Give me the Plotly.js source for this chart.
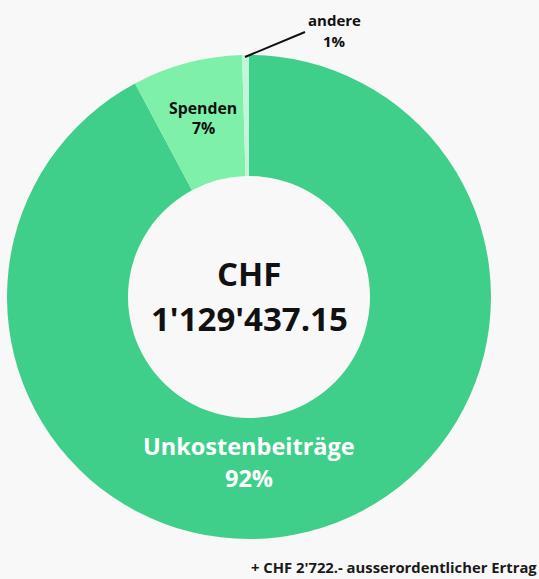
<!DOCTYPE html>
<html>
<head>
<meta charset="utf-8">
<script src="https://cdn.plot.ly/plotly-3.0.1.min.js"></script>
<style>
html,body{margin:0;padding:0;background:#f8f8f8;}
#chart{width:539px;height:579px;}
</style>
</head>
<body>
<div id="chart"></div>
<script>
const categories = ["Unkostenbeiträge", "Spenden", "andere"];
const values = [1041300, 83000, 5137.15];
const percentLabels = ["92%", "7%", "1%"];
const sliceColors = ["#3fcf8a", "#7ef0aa", "#c3f5d8"];
const currency = "CHF";
const footnote = "+ CHF 2'722.- ausserordentlicher Ertrag";

const total = values.reduce((a, b) => a + b, 0);
function swissFormat(n) {
  const parts = n.toFixed(2).split(".");
  return parts[0].replace(/\B(?=(\d{3})+(?!\d))/g, "'") + "." + parts[1];
}

const W = 539, H = 579;
const px = x => x / W;
const py = y => 1 - y / H;
const FONT = "Open Sans, sans-serif";

const trace = {
  type: "pie",
  labels: categories,
  values: values,
  sort: false,
  direction: "clockwise",
  rotation: 0,
  hole: 0.5,
  textinfo: "none",
  hoverinfo: "skip",
  marker: { colors: sliceColors, line: { width: 0 } },
  domain: { x: [px(7), px(491)], y: [py(539), py(55)] },
  showlegend: false
};

function ann(text, x, y, size, color, extra) {
  return Object.assign({
    text: text, x: px(x), y: py(y), xref: "paper", yref: "paper",
    xanchor: "center", yanchor: "middle", showarrow: false,
    font: { family: FONT, size: size, color: color, weight: 700 }
  }, extra || {});
}

const annotations = [
  ann(currency, 249, 273, 33, "#111111"),
  ann(swissFormat(total), 249, 318, 33, "#111111"),
  ann(categories[0], 249, 446, 23.5, "#ffffff"),
  ann(percentLabels[0], 249, 478, 23.5, "#ffffff"),
  ann(categories[1], 203, 108, 15.8, "#111111"),
  ann(percentLabels[1], 203, 128, 15.8, "#111111"),
  ann(categories[2], 334, 20, 15, "#111111"),
  ann(percentLabels[2], 334, 41, 15, "#111111"),
  ann(footnote, 538, 567, 14.8, "#1a1a1a", { xanchor: "right", borderpad: 0 })
];

const layout = {
  width: W, height: H,
  margin: { l: 0, r: 0, t: 0, b: 0 },
  paper_bgcolor: "#f8f8f8",
  plot_bgcolor: "#f8f8f8",
  annotations: annotations,
  shapes: [{
    type: "line", xref: "paper", yref: "paper",
    x0: px(245), y0: py(57), x1: px(305), y1: py(32),
    line: { color: "#111111", width: 2 }
  }],
  hovermode: false
};

Plotly.newPlot("chart", [trace], layout, { displayModeBar: false, staticPlot: true });
</script>
</body>
</html>
